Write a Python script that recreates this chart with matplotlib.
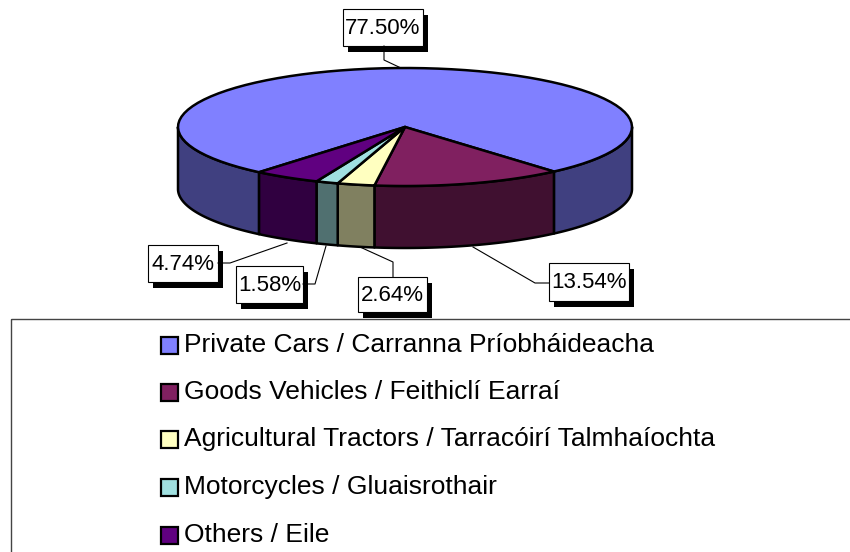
import numpy as np
import matplotlib.pyplot as plt
from matplotlib.patches import Polygon, Rectangle

plt.rcParams['font.family'] = ['Liberation Sans', 'DejaVu Sans']

categories = ["Private Cars / Carranna Príobháideacha",
              "Goods Vehicles / Feithiclí Earraí",
              "Agricultural Tractors / Tarracóirí Talmhaíochta",
              "Motorcycles / Gluaisrothair",
              "Others / Eile"]
shares = [77.50, 13.54, 2.64, 1.58, 4.74]
top_colors = ["#8080ff", "#802060", "#ffffc0", "#a0e0e0", "#600080"]
side_colors = ["#404080", "#401030", "#808060", "#507070", "#300040"]

# label boxes (x, y, w, h) and leader polylines, in pixels
label_boxes = [(343, 9, 80, 37), (549, 263, 80, 38), (358, 277, 69, 35),
               (236, 266, 67, 37), (148, 245, 70, 37)]
leaders = [[(384, 46), (384, 60), (401, 68)],
           [(473, 247), (535, 283), (549, 283)],
           [(393, 277), (393, 262), (360, 247)],
           [(303, 284), (315, 284), (326, 246)],
           [(218, 263), (230, 263), (287, 243)]]

cx, cy, rx, ry, depth = 405, 127, 227, 59, 62
start = 230.0

fig = plt.figure(figsize=(8.5, 5.52), dpi=100)
ax = fig.add_axes([0, 0, 1, 1])
ax.set_xlim(0, 850)
ax.set_ylim(552, 0)
ax.axis('off')


def arc(t0, t1, dy=0, n=80):
    t = np.radians(np.linspace(t0, t1, n))
    return np.column_stack([cx + rx*np.cos(t), cy - ry*np.sin(t) + dy])


fracs = np.array(shares) / sum(shares)
bounds = start - 360*np.concatenate([[0], np.cumsum(fracs)])

# sides (front half only)
for i in range(len(shares)):
    hi_a, lo_a = bounds[i], bounds[i+1]
    for k in (-360, 0, 360):
        lo = max(lo_a, -180 + k)
        hi = min(hi_a, k)
        if lo < hi:
            pts = np.vstack([arc(lo, hi), arc(hi, lo, depth)])
            ax.add_patch(Polygon(pts, closed=True, fc=side_colors[i],
                                 ec='black', lw=1.8, joinstyle='round'))

# tops
for i in range(len(shares)):
    pts = np.vstack([[cx, cy], arc(bounds[i+1], bounds[i])])
    ax.add_patch(Polygon(pts, closed=True, fc=top_colors[i],
                         ec='black', lw=1.8, joinstyle='round'))

# data labels
for i, (x, y, w, h) in enumerate(label_boxes):
    xs, ys = zip(*leaders[i])
    ax.plot(xs, ys, color='black', lw=0.8)
    ax.add_patch(Rectangle((x + 5, y + 6), w, h, fc='black', ec='none'))
    ax.add_patch(Rectangle((x, y), w, h, fc='white', ec='black', lw=0.8))
    ax.text(x + w/2, y + h/2 + 1, f"{shares[i]:.2f}%", fontsize=16,
            ha='center', va='center')

# legend
ax.add_patch(Rectangle((11, 319), 860, 260, fc='none', ec='#444444', lw=1))
row_y = [345, 392, 439, 487, 535]
for i, lab in enumerate(categories):
    ax.add_patch(Rectangle((161, row_y[i] - 8.5), 17, 17, fc=top_colors[i],
                           ec='black', lw=1.6))
    ax.text(184, row_y[i], lab, fontsize=19, ha='left', va='center')

fig.savefig('out.png', dpi=100)
